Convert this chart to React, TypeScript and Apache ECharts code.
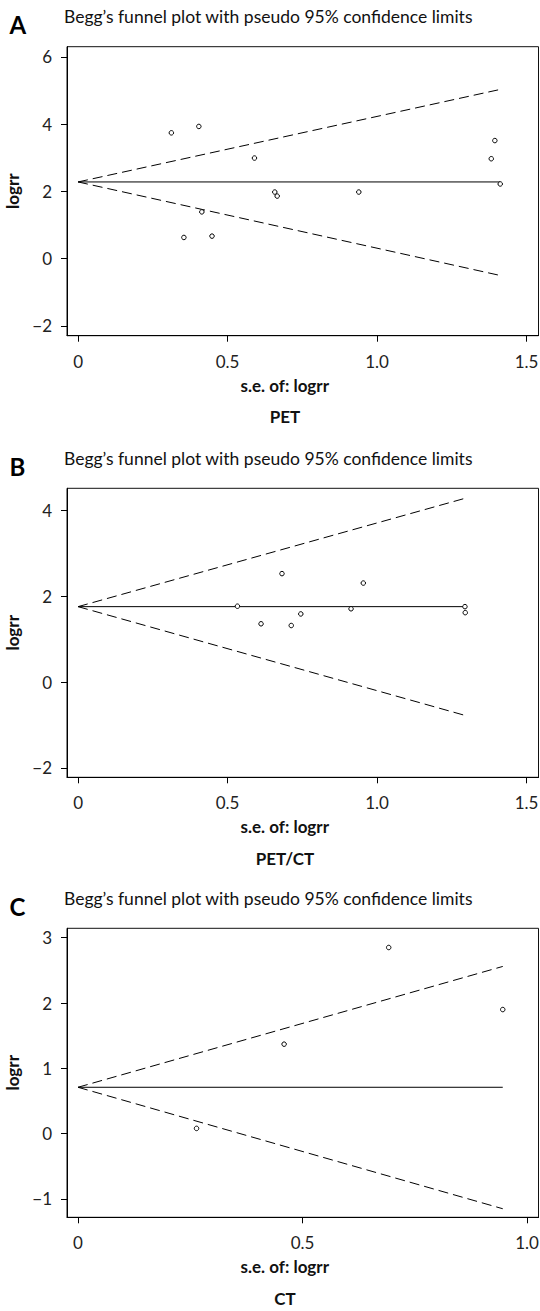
import React, { useEffect, useRef } from "react";
import * as echarts from "echarts";

// ---------- data ----------
const chartTitle = "Begg\u2019s funnel plot with pseudo 95% confidence limits";
const panelLetters = ["A", "B", "C"];
const captions = ["PET", "PET/CT", "CT"];
const xAxisName = "s.e. of: logrr";
const yAxisName = "logrr";

// Panel A (PET)
const seA = [0.312, 0.404, 0.354, 0.414, 0.448, 0.59, 0.658, 0.666, 0.939, 1.382, 1.394, 1.412];
const logrrA = [3.74, 3.93, 0.63, 1.39, 0.67, 2.99, 1.98, 1.86, 1.98, 2.97, 3.51, 2.22];
const limitSeA = [0, 1.412];
const pooledA = [2.28, 2.28];
const upperA = [2.28, 5.03];
const lowerA = [2.28, -0.5];

// Panel B (PET/CT)
const seB = [0.533, 0.612, 0.682, 0.713, 0.745, 0.913, 0.954, 1.294, 1.295];
const logrrB = [1.77, 1.36, 2.53, 1.32, 1.59, 1.71, 2.31, 1.76, 1.62];
const limitSeB = [0, 1.296];
const pooledB = [1.76, 1.76];
const upperB = [1.76, 4.29];
const lowerB = [1.76, -0.78];

// Panel C (CT)
const seC = [0.264, 0.459, 0.692, 0.946];
const logrrC = [0.08, 1.37, 2.85, 1.9];
const limitSeC = [0, 0.946];
const pooledC = [0.71, 0.71];
const upperC = [0.71, 2.56];
const lowerC = [0.71, -1.15];

// Axis ticks and ranges
const xTicksA = [0, 0.5, 1.0, 1.5];
const xTicksB = [0, 0.5, 1.0, 1.5];
const xTicksC = [0, 0.5, 1.0];
const yTicksA = [-2, 0, 2, 4, 6];
const yTicksB = [-2, 0, 2, 4];
const yTicksC = [-1, 0, 1, 2, 3];
const xRangeA = [-0.037, 1.54];
const xRangeB = [-0.037, 1.54];
const xRangeC = [-0.0245, 1.0256];
const yRangeA = [-2.29, 6.3];
const yRangeB = [-2.22, 4.52];
const yRangeC = [-1.281, 3.144];

const panels = [
  { se: seA, y: logrrA, lim: limitSeA, pooled: pooledA, upper: upperA, lower: lowerA, xt: xTicksA, yt: yTicksA, xr: xRangeA, yr: yRangeA },
  { se: seB, y: logrrB, lim: limitSeB, pooled: pooledB, upper: upperB, lower: lowerB, xt: xTicksB, yt: yTicksB, xr: xRangeB, yr: yRangeB },
  { se: seC, y: logrrC, lim: limitSeC, pooled: pooledC, upper: upperC, lower: lowerC, xt: xTicksC, yt: yTicksC, xr: xRangeC, yr: yRangeC },
];

// ---------- layout ----------
const FONT = "Lato, 'Noto Sans', sans-serif";
const GRID_LEFT = 67;
const GRID_RIGHT_EDGE = 538.5;
const GRID_H = 289;
const GRID_TOPS = [46.7, 488.3, 928.3];
const CENTER_X = 285;

const fmtY = (v: number) => (v < 0 ? "\u2212" + Math.abs(v) : String(v));
const fmtX = (v: number) => (v === 0 ? "0" : v.toFixed(1));

export default function App() {
  const ref = useRef<HTMLDivElement>(null);

  useEffect(() => {
    if (!ref.current) return;
    const chart = echarts.init(ref.current, null, { renderer: "svg" });

    const grid: any[] = [];
    const xAxis: any[] = [];
    const yAxis: any[] = [];
    const series: any[] = [];
    const graphic: any[] = [];
    const title: any[] = [];

    panels.forEach((p, i) => {
      const top = GRID_TOPS[i];
      grid.push({
        left: GRID_LEFT,
        top,
        width: GRID_RIGHT_EDGE - GRID_LEFT,
        height: GRID_H,
        show: true,
        borderColor: "#111",
        borderWidth: 1,
        backgroundColor: "transparent",
        containLabel: false,
        outerBoundsMode: "none",
      });
      xAxis.push({
        type: "value",
        gridIndex: i,
        min: p.xr[0],
        max: p.xr[1],
        axisLine: { show: true, onZero: false, lineStyle: { color: "#000", width: 1 } },
        axisTick: { show: true, length: 6, customValues: p.xt, lineStyle: { color: "#000", width: 1 } },
        axisLabel: {
          show: true,
          customValues: p.xt,
          formatter: fmtX,
          margin: 17,
          color: "#222",
          fontFamily: FONT,
          fontSize: 17,
        },
        splitLine: { show: false },
        name: xAxisName,
        nameLocation: "middle",
        nameGap: 41,
        nameTextStyle: {
          fontFamily: FONT,
          fontSize: 17,
          fontWeight: "bold",
          color: "#111",
          padding: [0, 36, 0, 0],
        },
      });
      yAxis.push({
        type: "value",
        gridIndex: i,
        min: p.yr[0],
        max: p.yr[1],
        axisLine: { show: true, onZero: false, lineStyle: { color: "#000", width: 1 } },
        axisTick: { show: true, length: 6, customValues: p.yt, lineStyle: { color: "#000", width: 1 } },
        axisLabel: {
          show: true,
          customValues: p.yt,
          formatter: fmtY,
          margin: 15,
          color: "#222",
          fontFamily: FONT,
          fontSize: 17,
        },
        splitLine: { show: false },
        name: yAxisName,
        nameLocation: "middle",
        nameRotate: 90,
        nameGap: 37,
        nameTextStyle: { fontFamily: FONT, fontSize: 17, fontWeight: "bold", color: "#111" },
      });

      series.push({
        type: "line",
        xAxisIndex: i,
        yAxisIndex: i,
        data: p.lim.map((s, k) => [s, p.pooled[k]]),
        symbol: "none",
        lineStyle: { color: "#000", width: 1, type: "solid" },
        z: 2,
      });
      series.push({
        type: "line",
        xAxisIndex: i,
        yAxisIndex: i,
        data: p.lim.map((s, k) => [s, p.upper[k]]),
        symbol: "none",
        lineStyle: { color: "#000", width: 1, type: [10, 5] },
        z: 2,
      });
      series.push({
        type: "line",
        xAxisIndex: i,
        yAxisIndex: i,
        data: p.lim.map((s, k) => [s, p.lower[k]]),
        symbol: "none",
        lineStyle: { color: "#000", width: 1, type: [10, 5] },
        z: 2,
      });
      series.push({
        type: "scatter",
        xAxisIndex: i,
        yAxisIndex: i,
        data: p.se.map((s, k) => [s, p.y[k]]),
        symbol: "circle",
        symbolSize: 4.5,
        itemStyle: { color: "#fff", borderColor: "#000", borderWidth: 1, opacity: 1 },
        z: 3,
      });

      title.push({
        text: chartTitle,
        left: 64,
        top: top - 39,
        textStyle: { fontFamily: FONT, fontSize: 17.5, fontWeight: "normal", color: "#111" },
        padding: 0,
      });

      graphic.push({
        type: "text",
        left: 9.5,
        top: top - 34,
        style: {
          text: panelLetters[i],
          fontFamily: FONT,
          fontSize: 24,
          fontWeight: "bold",
          fill: "#000",
        },
      });
      graphic.push({
        type: "text",
        x: CENTER_X,
        y: top + GRID_H + 81,
        style: {
          text: captions[i],
          fontFamily: FONT,
          fontSize: 17,
          fontWeight: "bold",
          fill: "#111",
          align: "center",
          verticalAlign: "middle",
        },
      });
    });

    chart.setOption({
      animation: false,
      backgroundColor: "#fff",
      title,
      grid,
      xAxis,
      yAxis,
      series,
      graphic,
    });

    return () => chart.dispose();
  }, []);

  return (
    <div
      ref={ref}
      style={{ position: "absolute", left: 0, top: 0, width: 540, height: 1311 }}
    />
  );
}
